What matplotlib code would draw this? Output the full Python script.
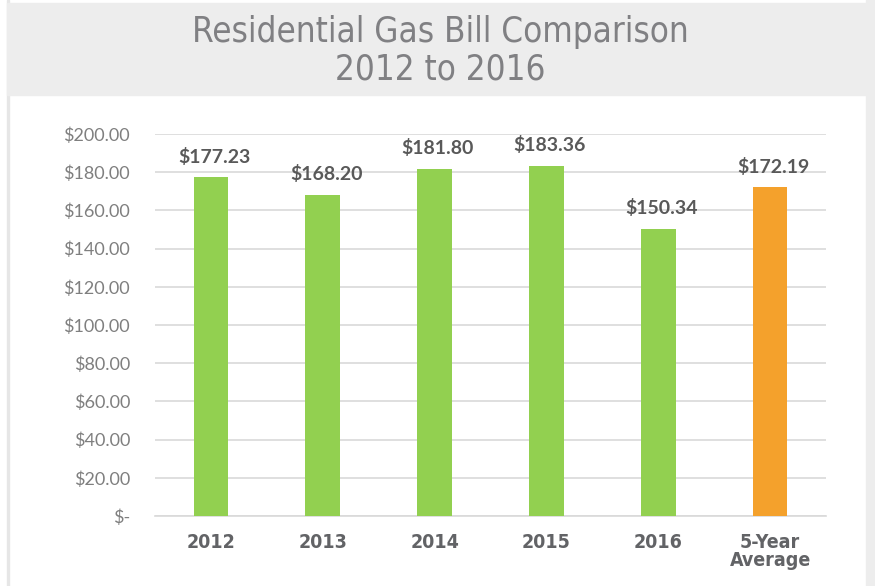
import matplotlib
matplotlib.use('Agg')
import matplotlib.pyplot as plt
from matplotlib.patches import Rectangle

## Chart data
years = ['2012', '2013', '2014', '2015', '2016', '5-Year\nAverage']
bills = [177.23, 168.20, 181.80, 183.36, 150.34, 172.19]
bar_colors = ['#92D050'] * 5 + ['#F4A12C']
yticks = [0, 20, 40, 60, 80, 100, 120, 140, 160, 180, 200]
ytick_labels = ['$-'] + ['${:,.2f}'.format(v) for v in yticks[1:]]

W, H = 875, 586
fig = plt.figure(figsize=(W / 100, H / 100), dpi=100)
fig.patch.set_facecolor('white')

# Background panels (title band, side strips)
fig.patches.append(Rectangle((7 / W, 0), 2 / W, 1, transform=fig.transFigure,
                             color='#E6E6E6', zorder=0))
fig.patches.append(Rectangle((866 / W, 0), 9 / W, 1, transform=fig.transFigure,
                             color='#EDEDED', zorder=0))
fig.patches.append(Rectangle((7 / W, 1 - 95 / H), 863 / W, 92 / H,
                             transform=fig.transFigure, color='#EDEDED', zorder=0))

narrow = ['Liberation Sans Narrow', 'DejaVu Sans']
fig.text(440 / W, 1 - 32 / H, 'Residential Gas Bill Comparison', ha='center', va='center',
         fontsize=25, color='#808083', family=narrow, fontstretch='condensed')
fig.text(440 / W, 1 - 69 / H, '2012 to 2016', ha='center', va='center',
         fontsize=25, color='#808083', family=narrow, fontstretch='condensed')

# Plot area
ax = fig.add_axes([155 / W, 1 - 516 / H, 671 / W, 382 / H])
x = range(len(years))
ax.bar(x, bills, width=0.31, color=bar_colors, zorder=3)
for xi, v in zip(x, bills):
    ax.text(xi + 0.03, v + 6, '${:.2f}'.format(v), ha='center', va='bottom', fontsize=14,
            fontweight='bold', color='#595959', family=['Lato', 'DejaVu Sans'])

ax.set_xlim(-0.5, len(years) - 0.5)
ax.set_ylim(0, 200)
ax.set_yticks(yticks)
ax.set_yticklabels(ytick_labels, fontsize=13, color='#7F7F7F', family=['Lato', 'DejaVu Sans'])
ax.set_xticks(list(x))
ax.set_xticklabels(years, fontsize=14, fontweight='bold', color='#626366',
                   family=narrow, fontstretch='condensed', linespacing=0.95, va='top')
ax.grid(axis='y', color='#D9D9D9', linewidth=1.2, zorder=0)
ax.tick_params(axis='both', length=0)
ax.tick_params(axis='y', pad=18)
ax.tick_params(axis='x', pad=12)
for s in ['top', 'right', 'left']:
    ax.spines[s].set_visible(False)
ax.spines['bottom'].set_color('#D9D9D9')
ax.spines['bottom'].set_linewidth(1.2)

fig.savefig('out.png', dpi=100)
